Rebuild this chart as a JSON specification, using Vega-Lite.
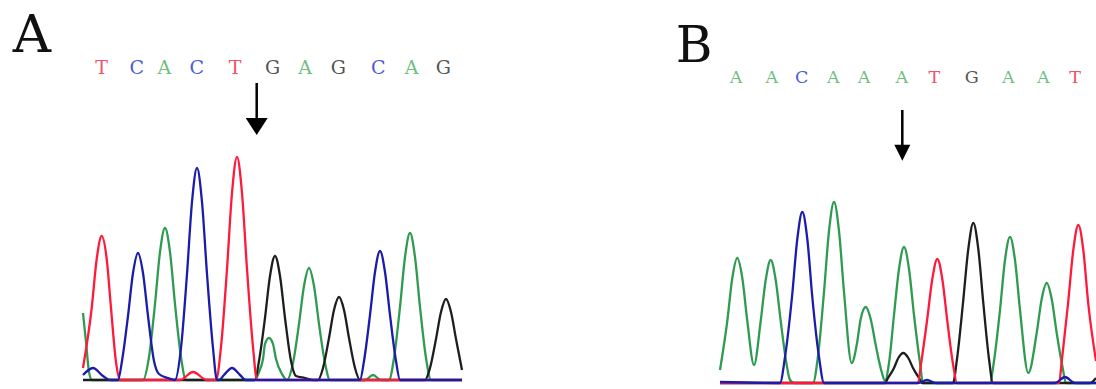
{
  "$schema": "https://vega.github.io/schema/vega-lite/v6.json",
  "padding": 0,
  "background": "white",
  "config": {"view": {"stroke": null}},
  "spacing": 196,
  "datasets": {
    "traceA": [
      {"base":"A","scan":0,"signal":67},{"base":"A","scan":3,"signal":38},{"base":"A","scan":6,"signal":8},{"base":"A","scan":9,"signal":0},
      {"base":"A","scan":60,"signal":0},{"base":"A","scan":66,"signal":23},{"base":"A","scan":72,"signal":76},{"base":"A","scan":77,"signal":128},{"base":"A","scan":82,"signal":152},{"base":"A","scan":87,"signal":128},{"base":"A","scan":92,"signal":76},{"base":"A","scan":98,"signal":23},{"base":"A","scan":103,"signal":0},
      {"base":"A","scan":172,"signal":0},{"base":"A","scan":176,"signal":8},{"base":"A","scan":180,"signal":21},{"base":"A","scan":182,"signal":36},{"base":"A","scan":186,"signal":42},{"base":"A","scan":190,"signal":36},{"base":"A","scan":193,"signal":21},{"base":"A","scan":199,"signal":6},{"base":"A","scan":204,"signal":0},
      {"base":"A","scan":210,"signal":17},{"base":"A","scan":216,"signal":56},{"base":"A","scan":221,"signal":94},{"base":"A","scan":226,"signal":112},{"base":"A","scan":231,"signal":94},{"base":"A","scan":236,"signal":56},{"base":"A","scan":242,"signal":17},{"base":"A","scan":247,"signal":0},
      {"base":"A","scan":282,"signal":0},{"base":"A","scan":290,"signal":5},{"base":"A","scan":298,"signal":0},
      {"base":"A","scan":306,"signal":0},{"base":"A","scan":311,"signal":22},{"base":"A","scan":317,"signal":73},{"base":"A","scan":322,"signal":123},{"base":"A","scan":327,"signal":147},{"base":"A","scan":332,"signal":123},{"base":"A","scan":337,"signal":73},{"base":"A","scan":343,"signal":22},{"base":"A","scan":348,"signal":0},{"base":"A","scan":379,"signal":0},

      {"base":"G","scan":0,"signal":0},{"base":"G","scan":172,"signal":0},{"base":"G","scan":176,"signal":19},{"base":"G","scan":182,"signal":62},{"base":"G","scan":187,"signal":104},{"base":"G","scan":192,"signal":124},{"base":"G","scan":197,"signal":104},{"base":"G","scan":202,"signal":62},{"base":"G","scan":208,"signal":19},{"base":"G","scan":213,"signal":4},{"base":"G","scan":222,"signal":2},{"base":"G","scan":230,"signal":0},
      {"base":"G","scan":235,"signal":0},{"base":"G","scan":240,"signal":12},{"base":"G","scan":246,"signal":42},{"base":"G","scan":251,"signal":70},{"base":"G","scan":256,"signal":83},{"base":"G","scan":261,"signal":70},{"base":"G","scan":266,"signal":42},{"base":"G","scan":272,"signal":12},{"base":"G","scan":277,"signal":0},
      {"base":"G","scan":342,"signal":0},{"base":"G","scan":347,"signal":12},{"base":"G","scan":353,"signal":41},{"base":"G","scan":358,"signal":68},{"base":"G","scan":363,"signal":81},{"base":"G","scan":368,"signal":68},{"base":"G","scan":373,"signal":41},{"base":"G","scan":379,"signal":10},

      {"base":"T","scan":0,"signal":12},{"base":"T","scan":8.7,"signal":72},{"base":"T","scan":13.7,"signal":121},{"base":"T","scan":18.7,"signal":144},{"base":"T","scan":23.7,"signal":121},{"base":"T","scan":28,"signal":72},{"base":"T","scan":33,"signal":18},{"base":"T","scan":37,"signal":0},
      {"base":"T","scan":97,"signal":0},{"base":"T","scan":110,"signal":8},{"base":"T","scan":124,"signal":0},
      {"base":"T","scan":133,"signal":0},{"base":"T","scan":138,"signal":33},{"base":"T","scan":144,"signal":111},{"base":"T","scan":149,"signal":187},{"base":"T","scan":154,"signal":223},{"base":"T","scan":159,"signal":187},{"base":"T","scan":164,"signal":111},{"base":"T","scan":170,"signal":33},{"base":"T","scan":174,"signal":0},{"base":"T","scan":379,"signal":0},

      {"base":"C","scan":0,"signal":5},{"base":"C","scan":10,"signal":12},{"base":"C","scan":20,"signal":4},{"base":"C","scan":27,"signal":0},
      {"base":"C","scan":35,"signal":0},{"base":"C","scan":39,"signal":19},{"base":"C","scan":45,"signal":64},{"base":"C","scan":50,"signal":107},{"base":"C","scan":55,"signal":127},{"base":"C","scan":60,"signal":107},{"base":"C","scan":65,"signal":64},{"base":"C","scan":71,"signal":19},{"base":"C","scan":76,"signal":6},{"base":"C","scan":85,"signal":2},{"base":"C","scan":92,"signal":0},
      {"base":"C","scan":98,"signal":32},{"base":"C","scan":104,"signal":106},{"base":"C","scan":109,"signal":178},{"base":"C","scan":114,"signal":212},{"base":"C","scan":119,"signal":178},{"base":"C","scan":124,"signal":106},{"base":"C","scan":130,"signal":32},{"base":"C","scan":134,"signal":0},
      {"base":"C","scan":136,"signal":0},{"base":"C","scan":141,"signal":5},{"base":"C","scan":149,"signal":12},{"base":"C","scan":157,"signal":5},{"base":"C","scan":163,"signal":0},
      {"base":"C","scan":277,"signal":0},{"base":"C","scan":281,"signal":19},{"base":"C","scan":287,"signal":65},{"base":"C","scan":292,"signal":108},{"base":"C","scan":297,"signal":129},{"base":"C","scan":302,"signal":108},{"base":"C","scan":307,"signal":65},{"base":"C","scan":313,"signal":19},{"base":"C","scan":317,"signal":0},{"base":"C","scan":379,"signal":0}
    ],
    "traceB": [
      {"base":"A","scan":0,"signal":13},{"base":"A","scan":7.3,"signal":62},{"base":"A","scan":12.3,"signal":105},{"base":"A","scan":17.3,"signal":125},{"base":"A","scan":22.3,"signal":105},{"base":"A","scan":27.3,"signal":62},{"base":"A","scan":34,"signal":18},
      {"base":"A","scan":40.7,"signal":62},{"base":"A","scan":45.7,"signal":103},{"base":"A","scan":50.7,"signal":123},{"base":"A","scan":55.7,"signal":103},{"base":"A","scan":60.7,"signal":62},{"base":"A","scan":66.7,"signal":18},{"base":"A","scan":70,"signal":3},{"base":"A","scan":74,"signal":0},
      {"base":"A","scan":93,"signal":0},{"base":"A","scan":98,"signal":27},{"base":"A","scan":104,"signal":91},{"base":"A","scan":109,"signal":152},{"base":"A","scan":114,"signal":181},{"base":"A","scan":119,"signal":152},{"base":"A","scan":124,"signal":91},{"base":"A","scan":131.7,"signal":20},
      {"base":"A","scan":136.7,"signal":38},{"base":"A","scan":140.7,"signal":64},{"base":"A","scan":145.7,"signal":76},{"base":"A","scan":150.7,"signal":64},{"base":"A","scan":155.7,"signal":38},{"base":"A","scan":161.7,"signal":11},{"base":"A","scan":165,"signal":2},
      {"base":"A","scan":169,"signal":20},{"base":"A","scan":174,"signal":68},{"base":"A","scan":179,"signal":114},{"base":"A","scan":184,"signal":136},{"base":"A","scan":189,"signal":114},{"base":"A","scan":194,"signal":68},{"base":"A","scan":200,"signal":20},{"base":"A","scan":203,"signal":0},
      {"base":"A","scan":270,"signal":0},{"base":"A","scan":274,"signal":22},{"base":"A","scan":280,"signal":73},{"base":"A","scan":285,"signal":123},{"base":"A","scan":290,"signal":146},{"base":"A","scan":295,"signal":123},{"base":"A","scan":300,"signal":73},{"base":"A","scan":308.3,"signal":10},
      {"base":"A","scan":316.7,"signal":50},{"base":"A","scan":321.7,"signal":84},{"base":"A","scan":326.7,"signal":100},{"base":"A","scan":331.7,"signal":84},{"base":"A","scan":336.7,"signal":50},{"base":"A","scan":342.7,"signal":15},{"base":"A","scan":346,"signal":0},{"base":"A","scan":376,"signal":0},

      {"base":"G","scan":0,"signal":0},{"base":"G","scan":165,"signal":0},{"base":"G","scan":168,"signal":5},{"base":"G","scan":174,"signal":15},{"base":"G","scan":178.3,"signal":25},{"base":"G","scan":183.3,"signal":30},{"base":"G","scan":188.3,"signal":25},{"base":"G","scan":193,"signal":15},{"base":"G","scan":199,"signal":5},{"base":"G","scan":202,"signal":0},
      {"base":"G","scan":233,"signal":0},{"base":"G","scan":237,"signal":24},{"base":"G","scan":243,"signal":80},{"base":"G","scan":248.3,"signal":134},{"base":"G","scan":253.3,"signal":160},{"base":"G","scan":258.3,"signal":134},{"base":"G","scan":263.3,"signal":80},{"base":"G","scan":269,"signal":24},{"base":"G","scan":273,"signal":0},
      {"base":"G","scan":370,"signal":0},{"base":"G","scan":376,"signal":5},

      {"base":"T","scan":0,"signal":0},{"base":"T","scan":198,"signal":0},{"base":"T","scan":201,"signal":19},{"base":"T","scan":207,"signal":62},{"base":"T","scan":212.3,"signal":104},{"base":"T","scan":217.3,"signal":124},{"base":"T","scan":222.3,"signal":104},{"base":"T","scan":227.3,"signal":62},{"base":"T","scan":233,"signal":19},{"base":"T","scan":237,"signal":0},
      {"base":"T","scan":339,"signal":0},{"base":"T","scan":342,"signal":24},{"base":"T","scan":348,"signal":79},{"base":"T","scan":353.3,"signal":133},{"base":"T","scan":358.3,"signal":158},{"base":"T","scan":363.3,"signal":133},{"base":"T","scan":368.3,"signal":79},{"base":"T","scan":376,"signal":22},

      {"base":"C","scan":0,"signal":1},{"base":"C","scan":60,"signal":0},{"base":"C","scan":65,"signal":26},{"base":"C","scan":72,"signal":86},{"base":"C","scan":77.3,"signal":144},{"base":"C","scan":82.3,"signal":171},{"base":"C","scan":87.3,"signal":144},{"base":"C","scan":92.3,"signal":86},{"base":"C","scan":99,"signal":26},{"base":"C","scan":104,"signal":0},
      {"base":"C","scan":198,"signal":0},{"base":"C","scan":207,"signal":3},{"base":"C","scan":216,"signal":0},
      {"base":"C","scan":335,"signal":0},{"base":"C","scan":345,"signal":6},{"base":"C","scan":355,"signal":0},{"base":"C","scan":376,"signal":0}
    ],
    "callsA": [
      {"letter":"T","scan":18.7},{"letter":"C","scan":53.7},{"letter":"A","scan":81.3},{"letter":"C","scan":113.7},{"letter":"T","scan":152},{"letter":"G","scan":189.7},{"letter":"A","scan":222},{"letter":"G","scan":255.3},{"letter":"C","scan":295.3},{"letter":"A","scan":328.7},{"letter":"G","scan":360.3}
    ],
    "callsB": [
      {"letter":"A","scan":16},{"letter":"A","scan":51.7},{"letter":"C","scan":81.7},{"letter":"A","scan":113.3},{"letter":"A","scan":144},{"letter":"A","scan":181.7},{"letter":"T","scan":214.3},{"letter":"G","scan":251.7},{"letter":"A","scan":288.3},{"letter":"A","scan":323.3},{"letter":"T","scan":355}
    ]
  },
  "hconcat": [
    {
      "width": 470,
      "height": 389,
      "layer": [
        {
          "data": {"name": "traceA"},
          "mark": {"type": "line", "interpolate": "monotone", "strokeWidth": 2.3, "clip": true},
          "encoding": {
            "x": {"field": "scan", "type": "quantitative", "scale": {"domain": [-83, 387], "nice": false, "zero": false}, "axis": null},
            "y": {"field": "signal", "type": "quantitative", "scale": {"domain": [-9, 380], "nice": false, "zero": false}, "axis": null},
            "stroke": {"field": "base", "type": "nominal", "scale": {"domain": ["A", "C", "G", "T"], "range": ["#2f9b50", "#1c1caa", "#1e1e1e", "#ff1a3c"]}, "legend": null}
          }
        },
        {
          "data": {"name": "callsA"},
          "mark": {"type": "text", "font": "DejaVu Serif", "fontSize": 19, "align": "center", "baseline": "alphabetic"},
          "encoding": {
            "x": {"field": "scan", "type": "quantitative", "scale": {"domain": [-83, 387], "nice": false, "zero": false}, "axis": null},
            "y": {"datum": 306, "type": "quantitative", "scale": {"domain": [-9, 380], "nice": false, "zero": false}, "axis": null},
            "text": {"field": "letter"},
            "fill": {"field": "letter", "type": "nominal", "scale": {"domain": ["A", "C", "G", "T"], "range": ["#6fbf7f", "#4b5be0", "#555555", "#f4506a"]}, "legend": null}
          }
        },
        {
          "data": {"values": [{"panel": "A"}]},
          "mark": {"type": "text", "font": "DejaVu Serif", "fontSize": 53, "align": "center", "baseline": "alphabetic", "color": "#111111"},
          "encoding": {
            "x": {"datum": -51, "type": "quantitative", "scale": {"domain": [-83, 387], "nice": false, "zero": false}, "axis": null},
            "y": {"datum": 328, "type": "quantitative", "scale": {"domain": [-9, 380], "nice": false, "zero": false}, "axis": null},
            "text": {"field": "panel"}
          }
        },
        {
          "data": {"values": [{"scan": 173.7, "top": 297, "neck": 258, "head": 253.5}]},
          "mark": {"type": "rule", "strokeWidth": 2.5, "color": "#000000"},
          "encoding": {
            "x": {"field": "scan", "type": "quantitative", "scale": {"domain": [-83, 387], "nice": false, "zero": false}, "axis": null},
            "y": {"field": "top", "type": "quantitative", "scale": {"domain": [-9, 380], "nice": false, "zero": false}, "axis": null},
            "y2": {"field": "neck"}
          }
        },
        {
          "data": {"values": [{"scan": 173.7, "top": 297, "neck": 258, "head": 253.5}]},
          "mark": {"type": "point", "shape": "M-1,-0.77L1,-0.77L0,0.77Z", "size": 484, "filled": true, "color": "#000000", "opacity": 1, "strokeWidth": 0},
          "encoding": {
            "x": {"field": "scan", "type": "quantitative", "scale": {"domain": [-83, 387], "nice": false, "zero": false}, "axis": null},
            "y": {"field": "head", "type": "quantitative", "scale": {"domain": [-9, 380], "nice": false, "zero": false}, "axis": null}
          }
        }
      ]
    },
    {
      "width": 430,
      "height": 389,
      "layer": [
        {
          "data": {"name": "traceB"},
          "mark": {"type": "line", "interpolate": "monotone", "strokeWidth": 2.3, "clip": true},
          "encoding": {
            "x": {"field": "scan", "type": "quantitative", "scale": {"domain": [-54, 376], "nice": false, "zero": false}, "axis": null},
            "y": {"field": "signal", "type": "quantitative", "scale": {"domain": [-6, 383], "nice": false, "zero": false}, "axis": null},
            "stroke": {"field": "base", "type": "nominal", "scale": {"domain": ["A", "C", "G", "T"], "range": ["#2f9b50", "#1c1caa", "#1e1e1e", "#ff1a3c"]}, "legend": null}
          }
        },
        {
          "data": {"name": "callsB"},
          "mark": {"type": "text", "font": "DejaVu Serif", "fontSize": 17.5, "align": "center", "baseline": "alphabetic"},
          "encoding": {
            "x": {"field": "scan", "type": "quantitative", "scale": {"domain": [-54, 376], "nice": false, "zero": false}, "axis": null},
            "y": {"datum": 299.7, "type": "quantitative", "scale": {"domain": [-6, 383], "nice": false, "zero": false}, "axis": null},
            "text": {"field": "letter"},
            "fill": {"field": "letter", "type": "nominal", "scale": {"domain": ["A", "C", "G", "T"], "range": ["#6fbf7f", "#4b5be0", "#555555", "#f4506a"]}, "legend": null}
          }
        },
        {
          "data": {"values": [{"panel": "B"}]},
          "mark": {"type": "text", "font": "DejaVu Serif", "fontSize": 50, "align": "center", "baseline": "alphabetic", "color": "#111111"},
          "encoding": {
            "x": {"datum": -26, "type": "quantitative", "scale": {"domain": [-54, 376], "nice": false, "zero": false}, "axis": null},
            "y": {"datum": 321.3, "type": "quantitative", "scale": {"domain": [-6, 383], "nice": false, "zero": false}, "axis": null},
            "text": {"field": "panel"}
          }
        },
        {
          "data": {"values": [{"scan": 182.3, "top": 273, "neck": 237, "head": 230.2}]},
          "mark": {"type": "rule", "strokeWidth": 2.5, "color": "#000000"},
          "encoding": {
            "x": {"field": "scan", "type": "quantitative", "scale": {"domain": [-54, 376], "nice": false, "zero": false}, "axis": null},
            "y": {"field": "top", "type": "quantitative", "scale": {"domain": [-6, 383], "nice": false, "zero": false}, "axis": null},
            "y2": {"field": "neck"}
          }
        },
        {
          "data": {"values": [{"scan": 182.3, "top": 273, "neck": 237, "head": 230.2}]},
          "mark": {"type": "point", "shape": "M-1,-1L1,-1L0,1Z", "size": 256, "filled": true, "color": "#000000", "opacity": 1, "strokeWidth": 0},
          "encoding": {
            "x": {"field": "scan", "type": "quantitative", "scale": {"domain": [-54, 376], "nice": false, "zero": false}, "axis": null},
            "y": {"field": "head", "type": "quantitative", "scale": {"domain": [-6, 383], "nice": false, "zero": false}, "axis": null}
          }
        }
      ]
    }
  ]
}
